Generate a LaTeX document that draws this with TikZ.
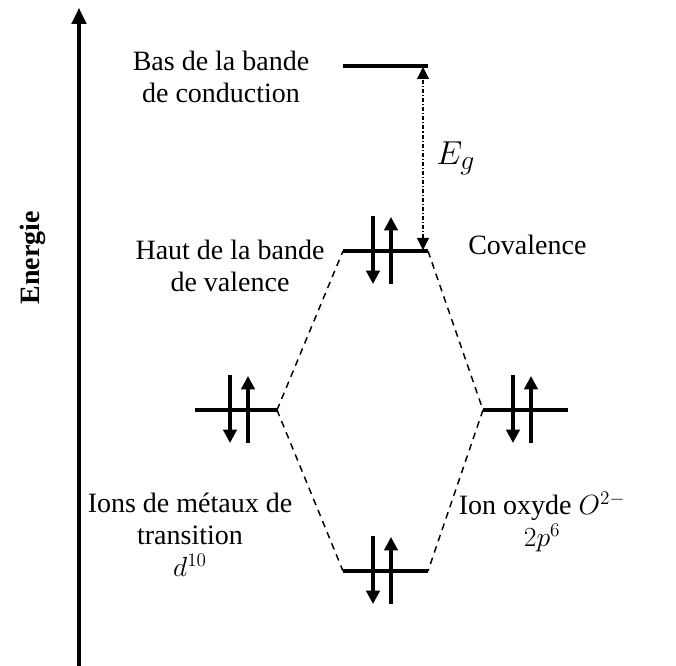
\documentclass[tikz,border=0pt]{standalone}
\usepackage{fontspec}
\setmainfont{Liberation Serif}
\usetikzlibrary{arrows.meta}
\begin{document}
\begin{tikzpicture}[x=0.75pt,y=-0.75pt,
  level/.style={line width=3.4pt},
  spin/.style={line width=2.4pt,-{Triangle[length=10pt,width=10pt]}},
  corr/.style={line width=1.1pt,dash pattern=on 5pt off 4pt},
  gap/.style={line width=0.8pt,dash pattern=on 3pt off 1.5pt on 0.8pt off 1.5pt,
    {Triangle[length=9pt,width=9pt]}-{Triangle[length=9pt,width=9pt]}},
  lbl/.style={font=\fontsize{21}{24}\selectfont,align=center,anchor=base,inner sep=0pt}]
\useasboundingbox (0,0) rectangle (676,666);
% energy axis
\coordinate (axB) at (79,666);
\coordinate (axT) at (79,8);
\draw[line width=2.4pt,-{Triangle[length=12pt,width=11pt]}] (axB) -- (axT);
\node[font=\fontsize{21}{24}\selectfont\bfseries,rotate=90,inner sep=0pt] (energie) at (33,258) {Energie};
% level end points
\coordinate (cbL) at (343,66);  \coordinate (cbR) at (428,66);
\coordinate (vbL) at (343,251); \coordinate (vbR) at (428,251);
\coordinate (mL)  at (195,410); \coordinate (mR)  at (277,410);
\coordinate (oL)  at (483,410); \coordinate (oR)  at (568,410);
\coordinate (bL)  at (343,571); \coordinate (bR)  at (428,571);
% levels
\draw[level] (cbL) -- (cbR);
\draw[level] (vbL) -- (vbR);
\draw[level] (mL) -- (mR);
\draw[level] (oL) -- (oR);
\draw[level] (bL) -- (bR);
% correlation lines
\draw[corr] (mR) -- (vbL);
\draw[corr] (vbR) -- (oL);
\draw[corr] (mR) -- (bL);
\draw[corr] (oL) -- (bR);
% spins
\foreach \sx/\sy in {373/251, 230/410, 513/410, 373/571}{
  \draw[spin] (\sx,\sy-35) -- (\sx,\sy+33);
  \draw[spin] (\sx+18,\sy+33) -- (\sx+18,\sy-34);
}
% band gap
\coordinate (egT) at (423,67);
\coordinate (egB) at (423,250);
\draw[gap] (egB) -- (egT);
\node[font=\fontsize{28}{30}\selectfont,anchor=base west,inner sep=0pt] (eg) at (436,165) {$E_g$};
% labels
\node[lbl] (cbtext) at (221,103) {Bas de la bande\\de conduction};
\node[lbl] (vbtext) at (230,292) {Haut de la bande\\de valence};
\node[lbl,anchor=base west] (cov) at (468,255) {Covalence};
\node[lbl] (mtext) at (190,577) {Ions de métaux de\\transition\\$d^{10}$};
\node[lbl] (otext) at (542,547) {Ion oxyde $O^{2-}$\\$2p^{6}$};
\end{tikzpicture}
\end{document}
